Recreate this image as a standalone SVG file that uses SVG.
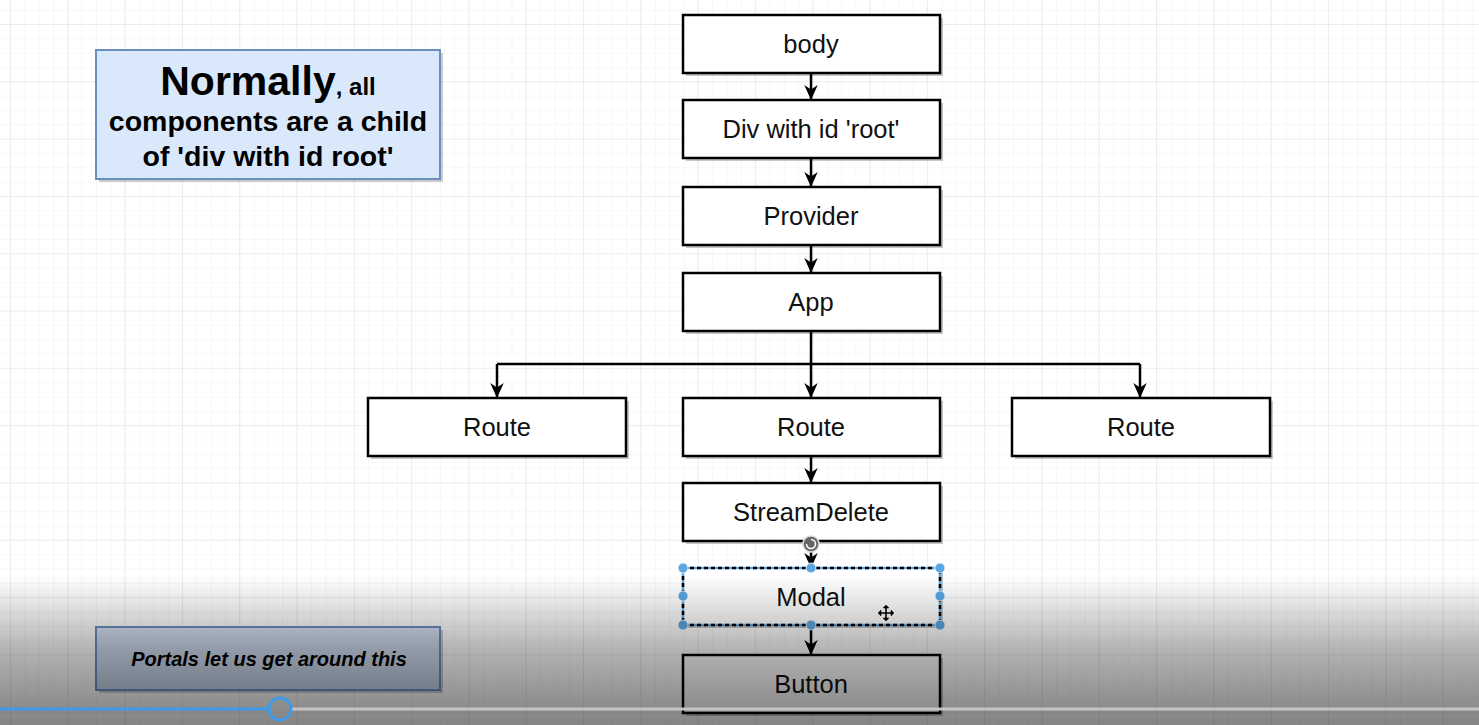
<svg xmlns="http://www.w3.org/2000/svg" width="1479" height="725" viewBox="0 0 1479 725">
<defs>
<pattern id="minor" x="10" y="24" width="14.33" height="14.33" patternUnits="userSpaceOnUse">
<path d="M0,0 V14.33 M0,0 H14.33" fill="none" stroke="#f0f0f0" stroke-width="1"/>
</pattern>
<pattern id="major" x="10" y="24" width="57.3" height="57.3" patternUnits="userSpaceOnUse">
<path d="M0,0 V57.3 M0,0 H57.3" fill="none" stroke="#e4e4e4" stroke-width="1.2"/>
</pattern>
<marker id="arr" viewBox="0 0 10 10" refX="10" refY="5" markerWidth="15" markerHeight="15" markerUnits="userSpaceOnUse" orient="auto">
<path d="M0,0.5 L10,5 L0,9.5 L3,5 z" fill="#000"/>
</marker>
<linearGradient id="shade" x1="0" y1="575" x2="0" y2="725" gradientUnits="userSpaceOnUse">
<stop offset="0" stop-color="#000" stop-opacity="0"/>
<stop offset="0.17" stop-color="#000" stop-opacity="0.1"/>
<stop offset="0.5" stop-color="#000" stop-opacity="0.3"/>
<stop offset="0.83" stop-color="#000" stop-opacity="0.43"/>
<stop offset="1" stop-color="#000" stop-opacity="0.48"/>
</linearGradient>
<linearGradient id="portal" x1="0" y1="0" x2="0" y2="1">
<stop offset="0" stop-color="#d6e2f4"/>
<stop offset="1" stop-color="#c4d2e8"/>
</linearGradient>
<style>
.node rect.b{fill:#fff;stroke:#000;stroke-width:2.5}
.node rect.s{fill:#000;opacity:0.22}
.node text{font-family:"Liberation Sans",Arial,sans-serif;font-size:25.5px;fill:#111;text-anchor:middle}
.edge{stroke:#000;stroke-width:2.5;fill:none}
.note text{font-family:"Liberation Sans",Arial,sans-serif;font-weight:bold;fill:#000;text-anchor:middle}
.h{fill:#5aa7e3;stroke:#fff;stroke-width:0.8}
</style>
</defs>
<rect width="1479" height="725" fill="#fff"/>
<rect width="1479" height="725" fill="url(#minor)"/>
<rect width="1479" height="725" fill="url(#major)"/>

<g id="note-normally" class="note">
<rect x="99" y="53" width="344" height="129" fill="#000" opacity="0.2"/>
<rect x="96" y="50" width="344" height="129" fill="#dae8fc" stroke="#6c8ebf" stroke-width="2"/>
<text x="268" y="95"><tspan font-size="41">Normally</tspan><tspan font-size="24">, all</tspan></text>
<text x="268" y="131" font-size="28.5">components are a child</text>
<text x="268" y="166" font-size="28.5">of 'div with id root'</text>
</g>

<g id="connectors">
<line class="edge" x1="811" y1="73" x2="811" y2="100" marker-end="url(#arr)"/>
<line class="edge" x1="811" y1="158" x2="811" y2="187" marker-end="url(#arr)"/>
<line class="edge" x1="811" y1="245" x2="811" y2="273" marker-end="url(#arr)"/>
<line class="edge" x1="811" y1="331" x2="811" y2="398" marker-end="url(#arr)"/>
<path class="edge" d="M497,364 H1140"/>
<line class="edge" x1="497" y1="364" x2="497" y2="398" marker-end="url(#arr)"/>
<line class="edge" x1="1140" y1="364" x2="1140" y2="398" marker-end="url(#arr)"/>
<line class="edge" x1="811" y1="456" x2="811" y2="483" marker-end="url(#arr)"/>
<line class="edge" x1="811" y1="541" x2="811" y2="568" marker-end="url(#arr)"/>
<line class="edge" x1="811" y1="625" x2="811" y2="655" marker-end="url(#arr)"/>
</g>

<g id="node-body" class="node"><rect class="s" x="686" y="18" width="257" height="58"/><rect class="b" x="683" y="15" width="257" height="58"/><text x="811" y="53">body</text></g>
<g id="node-div-root" class="node"><rect class="s" x="686" y="103" width="257" height="58"/><rect class="b" x="683" y="100" width="257" height="58"/><text x="811" y="138">Div with id 'root'</text></g>
<g id="node-provider" class="node"><rect class="s" x="686" y="190" width="257" height="58"/><rect class="b" x="683" y="187" width="257" height="58"/><text x="811" y="225">Provider</text></g>
<g id="node-app" class="node"><rect class="s" x="686" y="276" width="257" height="58"/><rect class="b" x="683" y="273" width="257" height="58"/><text x="811" y="311">App</text></g>
<g id="node-route-left" class="node"><rect class="s" x="371" y="401" width="258" height="58"/><rect class="b" x="368" y="398" width="258" height="58"/><text x="497" y="436">Route</text></g>
<g id="node-route-mid" class="node"><rect class="s" x="686" y="401" width="257" height="58"/><rect class="b" x="683" y="398" width="257" height="58"/><text x="811" y="436">Route</text></g>
<g id="node-route-right" class="node"><rect class="s" x="1015" y="401" width="258" height="58"/><rect class="b" x="1012" y="398" width="258" height="58"/><text x="1141" y="436">Route</text></g>
<g id="node-streamdelete" class="node"><rect class="s" x="686" y="486" width="257" height="58"/><rect class="b" x="683" y="483" width="257" height="58"/><text x="811" y="521">StreamDelete</text></g>
<g id="node-modal" class="node"><rect class="s" x="686" y="571" width="257" height="57"/><rect x="683" y="568" width="257" height="57" fill="#fff" stroke="#5aa7e3" stroke-width="2.5"/><rect x="683" y="568" width="257" height="57" fill="none" stroke="#000" stroke-width="2.5" stroke-dasharray="4 3"/><text x="811" y="606">Modal</text></g>
<g id="node-button" class="node"><rect class="s" x="686" y="658" width="257" height="58"/><rect class="b" x="683" y="655" width="257" height="58"/><text x="811" y="693">Button</text></g>

<g id="selection-handles">
<circle class="h" cx="683" cy="568" r="5"/><circle class="h" cx="811" cy="568" r="5"/><circle class="h" cx="940" cy="568" r="5"/>
<circle class="h" cx="683" cy="596" r="5"/><circle class="h" cx="940" cy="596" r="5"/>
<circle class="h" cx="683" cy="625" r="5"/><circle class="h" cx="811" cy="625" r="5"/><circle class="h" cx="940" cy="625" r="5"/>
<circle cx="811" cy="544" r="8" fill="#666" stroke="#ddd" stroke-width="1.5"/>
<path d="M806.5,544 A4.5,4.5 0 1 0 811,539.5" fill="none" stroke="#fff" stroke-width="1.6"/>
<g transform="translate(886,613)" stroke="#000" stroke-width="1.6" fill="#000">
<path d="M-7,0 H7 M0,-7 V7" fill="none"/>
<path d="M-8,0 L-5,-3 L-5,3 z M8,0 L5,-3 L5,3 z M0,-8 L-3,-5 L3,-5 z M0,8 L-3,5 L3,5 z" stroke-width="0.5"/>
</g>
</g>

<g id="note-portals" class="note">
<rect x="99" y="630" width="344" height="63" fill="#000" opacity="0.2"/>
<rect x="96" y="627" width="344" height="63" fill="url(#portal)" stroke="#6c8ebf" stroke-width="2"/>
<text x="269" y="666" font-size="20" font-style="italic">Portals let us get around this</text>
</g>

<rect x="0" y="575" width="1479" height="150" fill="url(#shade)"/>
<g id="progress-bar">
<line x1="291" y1="709" x2="1479" y2="709" stroke="#c4c4c4" stroke-width="3"/>
<line x1="0" y1="709" x2="269" y2="709" stroke="#3e9bea" stroke-width="3"/>
<circle cx="280" cy="709" r="11" fill="none" stroke="#3e9bea" stroke-width="3"/>
</g>
</svg>
